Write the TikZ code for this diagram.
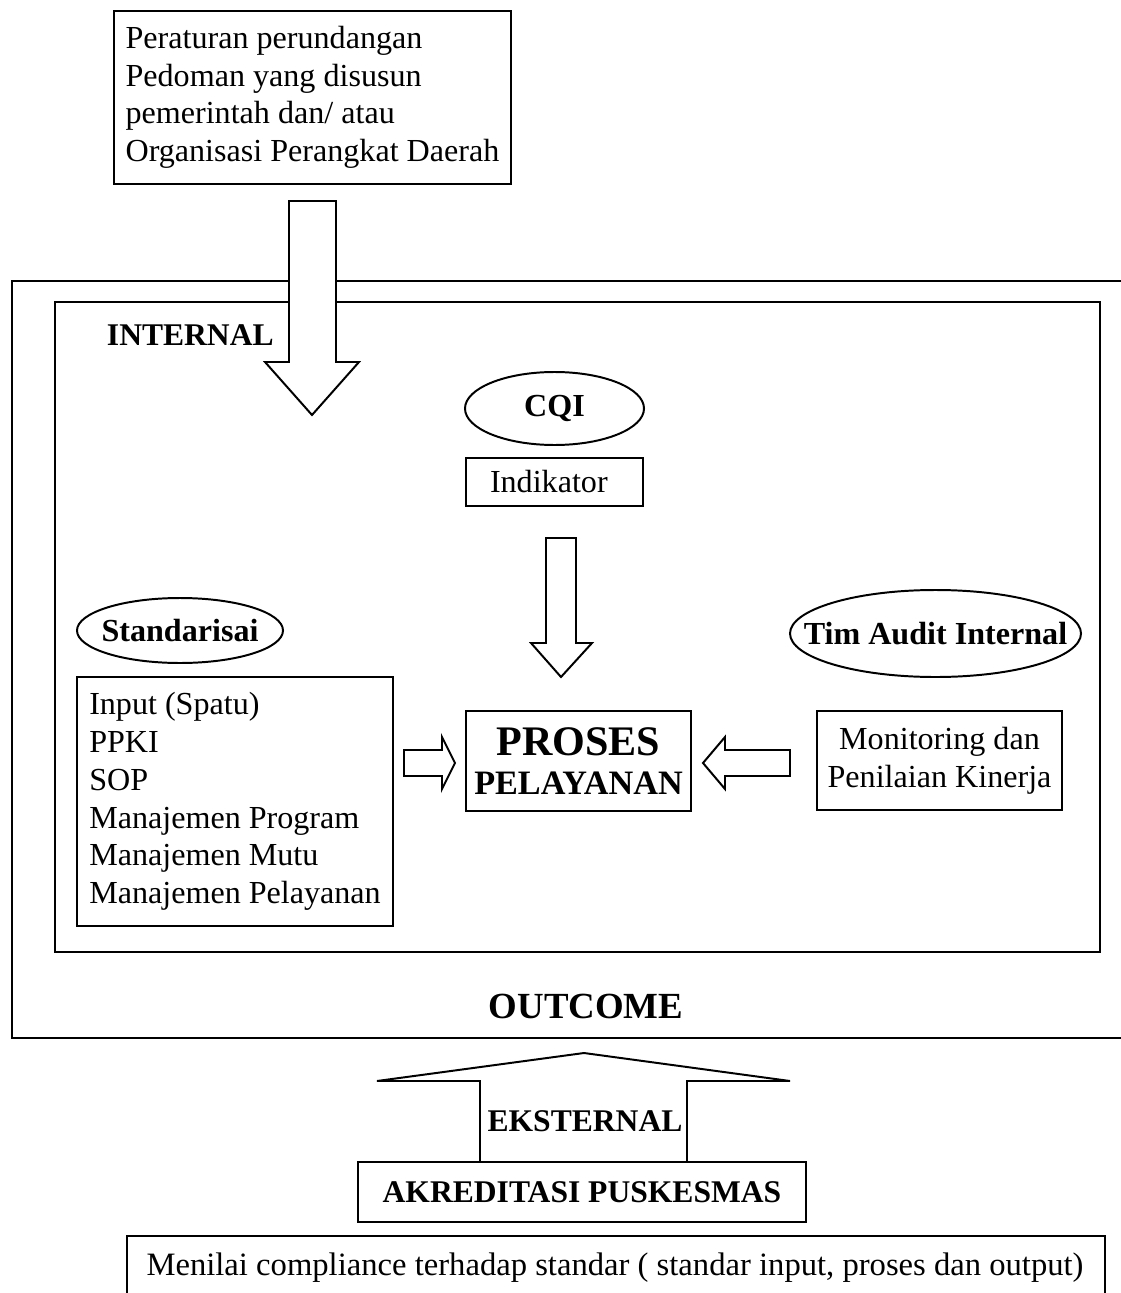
\documentclass[tikz,border=0pt]{standalone}
\usepackage{fontspec}
\setmainfont{Liberation Serif}

\newcommand{\pxu}{0.38pt}

\begin{document}
\begin{tikzpicture}[
		x=\pxu, y=-\pxu,
		line width=0.75pt,
		line join=miter,
		box/.style={draw, inner sep=0pt, font=\fontsize{12.2}{14.3}\selectfont},
		oval/.style={inner sep=0pt, font=\fontsize{12.2}{14}\selectfont\bfseries},
		heading/.style={inner sep=0pt, anchor=base, font=\fontsize{12}{14}\selectfont\bfseries},
		blockarrow/.style={draw, fill=white}
		]
		\useasboundingbox (0,0) rectangle (1121,1293);
		
		% sumber acuan
		\node[box, minimum width=397*\pxu, minimum height=173*\pxu, align=left] (aturan) at (312.5,97.5)
			{Peraturan perundangan\\Pedoman yang disusun\\pemerintah dan/ atau\\Organisasi Perangkat Daerah};
		
		% bingkai luar dan dalam
		\draw (1121,281) -- (12,281) -- (12,1038) -- (1121,1038);
		\draw (55,302) rectangle (1100,952);
		
		\draw[blockarrow] (289,201) -- (336,201) -- (336,362) -- (359,362) -- (312,415) -- (265,362) -- (289,362) -- cycle;
		\node[heading, anchor=base west] (internal) at (106,345) {INTERNAL};
		
		% CQI
		\node[oval] (cqi) at (554.5,408.5) {CQI};
		\draw (cqi.center) ellipse [x radius=89.5*\pxu, y radius=36.5*\pxu];
		\node[box, minimum height=48*\pxu, inner xsep=24*\pxu, text width=129*\pxu, align=left] (indikator) at (554.5,482) {Indikator};
		\draw[blockarrow] (546,538) -- (576,538) -- (576,643) -- (592,643) -- (561,677) -- (531,643) -- (546,643) -- cycle;
		
		% standarisasi
		\node[oval] (standar) at (180,630.5) {Standarisai};
		\draw (standar.center) ellipse [x radius=103*\pxu, y radius=32.5*\pxu];
		\node[box, minimum width=316*\pxu, minimum height=249*\pxu, align=left, font=\fontsize{12.2}{14.36}\selectfont] (input) at (235,801.5)
			{Input (Spatu)\\PPKI\\SOP\\Manajemen Program\\Manajemen Mutu\\Manajemen Pelayanan};
		
		% proses
		\node[box, minimum width=225*\pxu, minimum height=100*\pxu, align=center, font=\fontsize{13}{14.8}\selectfont\bfseries] (proses) at (578.5,761)
			{{\fontsize{16}{18}\selectfont PROSES}\\PELAYANAN};
		\draw[blockarrow] (404,750) -- (442,750) -- (442,737) -- (455,763) -- (442,789) -- (442,776) -- (404,776) -- cycle;
		\draw[blockarrow] (790,750) -- (725,750) -- (725,737) -- (703,763) -- (725,789) -- (725,776) -- (790,776) -- cycle;
		
		% audit internal
		\node[oval] (audit) at (935.5,633.5) {Tim Audit Internal};
		\draw (audit.center) ellipse [x radius=145.5*\pxu, y radius=43.5*\pxu];
		\node[box, minimum width=245*\pxu, minimum height=99*\pxu, align=center] (monitor) at (939.5,760.5)
			{Monitoring dan\\Penilaian Kinerja};
		
		\node[heading, font=\fontsize{14}{16}\selectfont\bfseries] (outcome) at (586,1018) {OUTCOME};
		
		% eksternal
		\draw (480,1162) -- (480,1081) -- (377,1081) -- (584,1053) -- (790,1081) -- (687,1081) -- (687,1162);
		\node[heading] (eksternal) at (585,1131) {EKSTERNAL};
		\node[box, minimum width=448*\pxu, minimum height=60*\pxu, font=\fontsize{12}{14}\selectfont\bfseries] (akreditasi) at (582,1192) {AKREDITASI PUSKESMAS};
		
		\draw (127,1293) -- (127,1236) -- (1105,1236) -- (1105,1293);
		\node[heading, font=\fontsize{12.4}{14}\selectfont] (menilai) at (615,1275)
			{Menilai compliance terhadap standar ( standar input, proses dan output)};
		
	\end{tikzpicture}
\end{document}
